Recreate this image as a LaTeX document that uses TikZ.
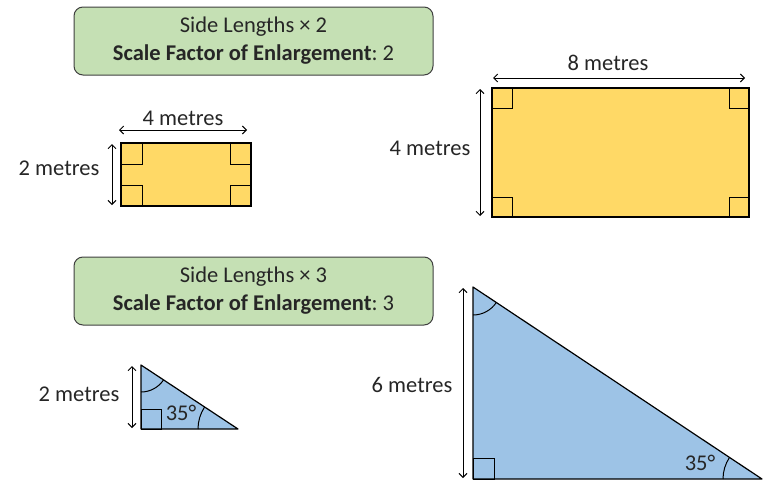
\documentclass[tikz,border=0pt]{standalone}
\usepackage{fontspec}
\setmainfont{Carlito}
\usetikzlibrary{arrows.meta}
\frenchspacing
\definecolor{ScaleGreen}{HTML}{C5E0B4}
\definecolor{ScaleEdge}{HTML}{3F3F3F}
\definecolor{ScaleYellow}{HTML}{FFD966}
\definecolor{ScaleBlue}{HTML}{9DC3E6}
\definecolor{ScaleText}{HTML}{262626}

\begin{document}
\begin{tikzpicture}[x=1pt,y=-1pt,text=ScaleText,
    banner/.style={draw=ScaleEdge,fill=ScaleGreen,rounded corners=9pt,line width=1pt,
      minimum width=359pt,minimum height=68pt,align=center,font=\fontsize{22.5}{28}\selectfont},
    edgeline/.style={draw=black,line width=1.2pt},
    marker/.style={draw=black,line width=1pt},
    dim/.style={{Straight Barb[length=4pt,width=8pt]}-{Straight Barb[length=4pt,width=8pt]},line width=1pt},
    lbl/.style={font=\fontsize{22.5}{25}\selectfont,inner sep=0pt}]
  \useasboundingbox (0,0) rectangle (765,482);

  % headings
  \node[banner] (head1) at (253.5,41) {Side Lengths × 2\\\textbf{Scale Factor of Enlargement}: 2};
  \node[banner] (head3) at (253.5,291) {Side Lengths × 3\\\textbf{Scale Factor of Enlargement}: 3};

  % small rectangle
  \coordinate (r1a) at (121,143);
  \coordinate (r1b) at (251,206);
  \draw[edgeline,fill=ScaleYellow] (r1a) rectangle (r1b);
  \foreach \x/\y/\dx/\dy in {121/143/21/21,251/143/-21/21,121/206/21/-21,251/206/-21/-21}
    \draw[marker] (\x,\y) rectangle ++(\dx,\dy);
  \coordinate (r1wl) at (119,130);
  \coordinate (r1wr) at (247,130);
  \draw[dim] (r1wl) -- (r1wr);
  \node[lbl] (r1w) at (183,118) {4 metres};
  \coordinate (r1ht) at (112,144);
  \coordinate (r1hb) at (112,205);
  \draw[dim] (r1ht) -- (r1hb);
  \node[lbl] (r1h) at (59,168) {2 metres};

  % big rectangle
  \coordinate (r2a) at (492,88);
  \coordinate (r2b) at (749,217);
  \draw[edgeline,fill=ScaleYellow] (r2a) rectangle (r2b);
  \foreach \x/\y/\dx/\dy in {492/88/20/20,749/88/-20/20,492/217/20/-20,749/217/-20/-20}
    \draw[marker] (\x,\y) rectangle ++(\dx,\dy);
  \coordinate (r2wl) at (493,78);
  \coordinate (r2wr) at (745,78);
  \draw[dim] (r2wl) -- (r2wr);
  \node[lbl] (r2w) at (608,63) {8 metres};
  \coordinate (r2ht) at (480,89);
  \coordinate (r2hb) at (480,216);
  \draw[dim] (r2ht) -- (r2hb);
  \node[lbl] (r2h) at (430,148) {4 metres};

  % small triangle
  \coordinate (t1top) at (141,365);
  \coordinate (t1rt) at (141,429);
  \coordinate (t1end) at (238,429);
  \draw[edgeline,fill=ScaleBlue,line join=round] (t1top) -- (t1rt) -- (t1end) -- cycle;
  \draw[marker] (t1rt) rectangle ++(20,-20);
  \draw[line width=1pt] (t1top) ++(90:27) arc[start angle=90,end angle=33.4,radius=27];
  \draw[line width=1pt] (t1end) ++(180:40) arc[start angle=180,end angle=213.4,radius=40];
  \coordinate (t1ht) at (132,366);
  \coordinate (t1hb) at (132,428);
  \draw[dim] (t1ht) -- (t1hb);
  \node[lbl] (t1h) at (79,394) {2 metres};
  \node[lbl] (t1ang) at (181,413) {35°};

  % big triangle
  \coordinate (t3top) at (473,287);
  \coordinate (t3rt) at (473,479);
  \coordinate (t3end) at (762,479);
  \draw[edgeline,fill=ScaleBlue,line join=round] (t3top) -- (t3rt) -- (t3end) -- cycle;
  \draw[marker] (t3rt) rectangle ++(21,-21);
  \draw[line width=1pt] (t3top) ++(90:28) arc[start angle=90,end angle=33.6,radius=28];
  \draw[line width=1pt] (t3end) ++(180:39) arc[start angle=180,end angle=213.6,radius=39];
  \coordinate (t3ht) at (463,288);
  \coordinate (t3hb) at (463,478);
  \draw[dim] (t3ht) -- (t3hb);
  \node[lbl] (t3h) at (412,385) {6 metres};
  \node[lbl] (t3ang) at (700,463) {35°};
\end{tikzpicture}
\end{document}
